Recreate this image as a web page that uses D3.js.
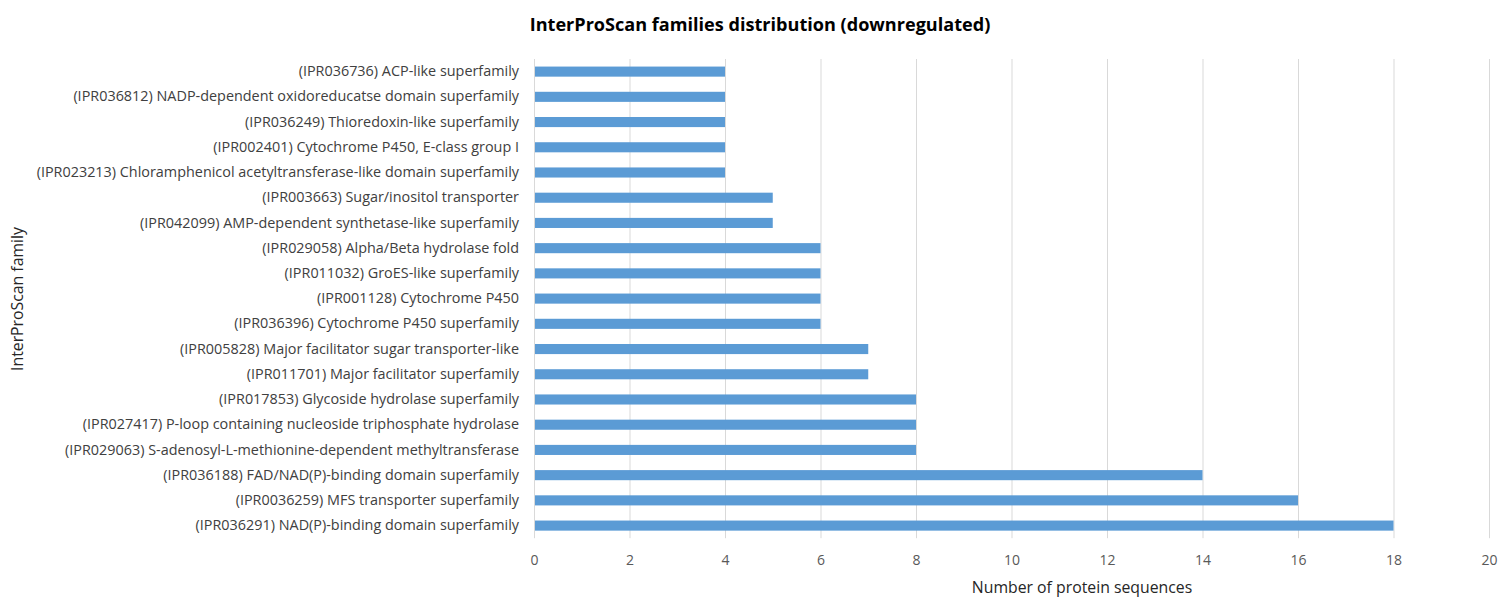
<!DOCTYPE html>
<html>
<head>
<meta charset="utf-8">
<script src="https://cdn.jsdelivr.net/npm/d3@7"></script>
<style>
  html, body { margin: 0; padding: 0; background: #fff; }
  svg { display: block; font-family: "Open Sans", "Noto Sans", sans-serif; }
</style>
</head>
<body>
<svg id="chart" width="1500" height="597"></svg>
<script>
// InterProScan families among downregulated proteins (top to bottom)
const families = [
  "(IPR036736) ACP-like superfamily",
  "(IPR036812) NADP-dependent oxidoreducatse domain superfamily",
  "(IPR036249) Thioredoxin-like superfamily",
  "(IPR002401) Cytochrome P450, E-class group I",
  "(IPR023213) Chloramphenicol acetyltransferase-like domain superfamily",
  "(IPR003663) Sugar/inositol transporter",
  "(IPR042099) AMP-dependent synthetase-like superfamily",
  "(IPR029058) Alpha/Beta hydrolase fold",
  "(IPR011032) GroES-like superfamily",
  "(IPR001128) Cytochrome P450",
  "(IPR036396) Cytochrome P450 superfamily",
  "(IPR005828) Major facilitator sugar transporter-like",
  "(IPR011701) Major facilitator superfamily",
  "(IPR017853) Glycoside hydrolase superfamily",
  "(IPR027417) P-loop containing nucleoside triphosphate hydrolase",
  "(IPR029063) S-adenosyl-L-methionine-dependent methyltransferase",
  "(IPR036188) FAD/NAD(P)-binding domain superfamily",
  "(IPR0036259) MFS transporter superfamily",
  "(IPR036291) NAD(P)-binding domain superfamily"
];
const counts = [4, 4, 4, 4, 4, 5, 5, 6, 6, 6, 6, 7, 7, 8, 8, 8, 14, 16, 18];
const xTicks = [0, 2, 4, 6, 8, 10, 12, 14, 16, 18, 20];

const svg = d3.select("#chart");
const plotLeft = 534, plotRight = 1489, plotTop = 59, plotBottom = 538.2;

const x = d3.scaleLinear().domain([0, 20]).range([plotLeft, plotRight]);
const y = d3.scaleBand().domain(families).range([plotTop, plotBottom]).paddingInner(0.6).paddingOuter(0.3);

// vertical gridlines
svg.append("g")
  .selectAll("line")
  .data(xTicks.slice(1))
  .join("line")
  .attr("x1", d => x(d) + 0.5).attr("x2", d => x(d) + 0.5)
  .attr("y1", plotTop).attr("y2", plotBottom)
  .attr("stroke", "#d9d9d9").attr("stroke-width", 1);

// category axis line
svg.append("line")
  .attr("x1", x(0) + 0.5).attr("x2", x(0) + 0.5)
  .attr("y1", plotTop).attr("y2", plotBottom)
  .attr("stroke", "#d9d9d9");

// bars
svg.append("g")
  .selectAll("rect")
  .data(families.map((f, i) => ({ f, v: counts[i] })))
  .join("rect")
  .attr("x", x(0) + 1)
  .attr("y", d => y(d.f))
  .attr("width", d => x(d.v) - x(0) - 1)
  .attr("height", y.bandwidth())
  .attr("fill", "#5b9bd5");

// category labels
const yAxis = svg.append("g")
  .attr("transform", `translate(${plotLeft},0)`)
  .call(d3.axisLeft(y).tickSize(0).tickPadding(15));
yAxis.select(".domain").remove();
yAxis.selectAll("text")
  .attr("font-family", "'Open Sans', sans-serif")
  .attr("font-size", 14.4)
  .attr("fill", "#404040");

// value axis labels
const xAxis = svg.append("g")
  .attr("transform", `translate(0,${plotBottom})`)
  .call(d3.axisBottom(x).tickValues(xTicks).tickSize(0).tickPadding(17).tickFormat(d3.format("d")));
xAxis.select(".domain").remove();
xAxis.selectAll("text")
  .attr("font-family", "'Open Sans', sans-serif")
  .attr("font-size", 14)
  .attr("fill", "#595959");

// title
svg.append("text")
  .attr("x", 760).attr("y", 31)
  .attr("text-anchor", "middle")
  .attr("font-size", 18.1)
  .attr("font-weight", "bold")
  .attr("fill", "#000")
  .text("InterProScan families distribution (downregulated)");

// axis titles
svg.append("text")
  .attr("x", 1082).attr("y", 593)
  .attr("text-anchor", "middle")
  .attr("font-size", 15.8)
  .attr("fill", "#262626")
  .text("Number of protein sequences");

svg.append("text")
  .attr("transform", "translate(23,299) rotate(-90)")
  .attr("text-anchor", "middle")
  .attr("font-size", 15.8)
  .attr("fill", "#262626")
  .text("InterProScan family");
</script>
</body>
</html>
